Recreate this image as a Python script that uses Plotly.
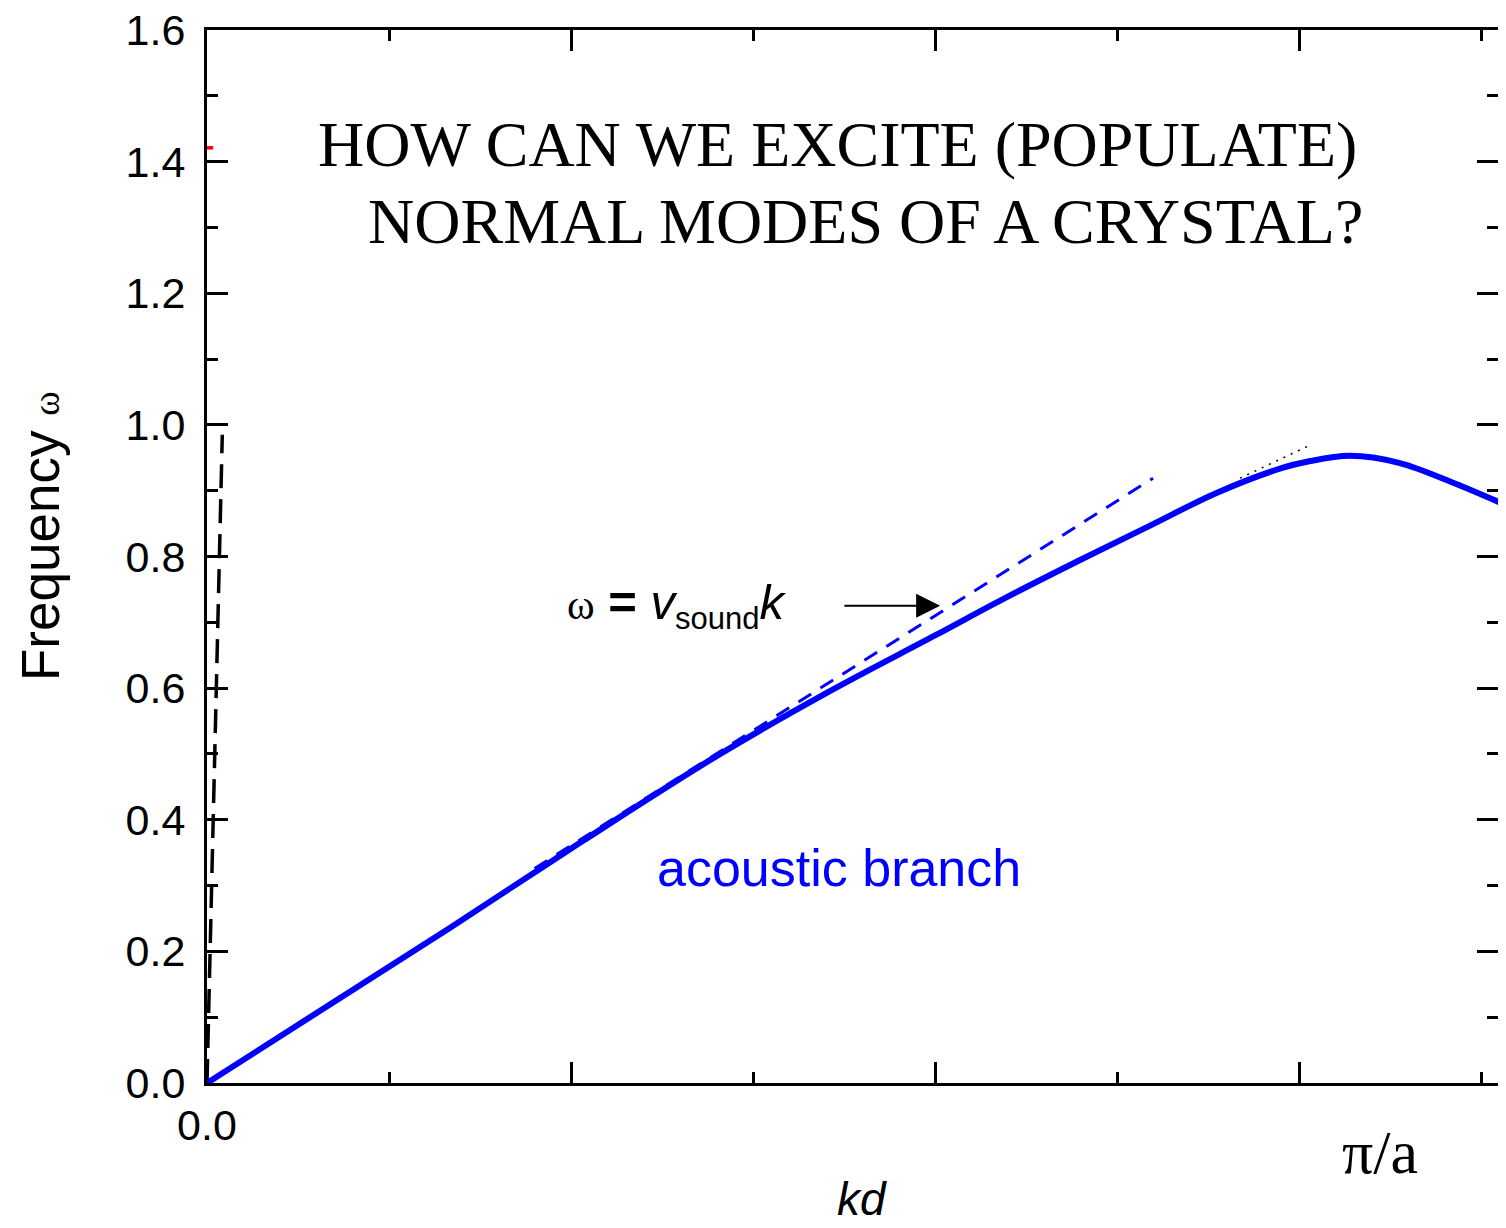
import plotly.graph_objects as go

# ---- data ----
# x in units of the major tick spacing (major ticks at 0,1,2,3), y = frequency omega
acoustic_k = [0.0, 0.668, 1.033, 1.401, 1.7, 2.0, 2.179, 2.4, 2.591, 2.775,
              2.956, 3.022, 3.140, 3.277, 3.415, 3.569]
acoustic_w = [0.0, 0.236, 0.368, 0.497, 0.592, 0.680, 0.733, 0.795, 0.847, 0.897,
              0.935, 0.944, 0.953, 0.942, 0.914, 0.878]

sound_k = [0.9, 2.599]
sound_w = [0.326, 0.919]

light_k = [0.0, 0.042]
light_w = [0.0, 0.985]

dotted_k = [2.838, 3.022]
dotted_w = [0.919, 0.967]

red_k = [0.0, 0.017]
red_w = [1.421, 1.421]

arrow_tail = (1.747, 0.725)
arrow_head = (2.014, 0.725)

x_tickvals = [0, 1, 2, 3]
x_ticktext = ["0.0", "", "", ""]
y_tickvals = [0.0, 0.2, 0.4, 0.6, 0.8, 1.0, 1.2, 1.4, 1.6]
y_ticktext = ["0.0", "0.2", "0.4", "0.6", "0.8", "1.0", "1.2", "1.4", "1.6"]

SANS = "Liberation Sans, Arial, sans-serif"
SERIF = "Liberation Serif, Times New Roman, serif"

fig = go.Figure()

fig.add_trace(go.Scatter(x=light_k, y=light_w, mode="lines",
                         line=dict(color="black", width=3.5, dash="24px,11px"),
                         showlegend=False, hoverinfo="skip"))
fig.add_trace(go.Scatter(x=sound_k, y=sound_w, mode="lines",
                         line=dict(color="#0000FF", width=3, dash="15px,11px"),
                         showlegend=False, hoverinfo="skip"))
fig.add_trace(go.Scatter(x=dotted_k, y=dotted_w, mode="lines",
                         line=dict(color="black", width=1.5, dash="2px,6px"),
                         showlegend=False, hoverinfo="skip"))
fig.add_trace(go.Scatter(x=acoustic_k, y=acoustic_w, mode="lines",
                         line=dict(color="#0000FF", width=6, shape="spline", smoothing=1.0),
                         showlegend=False, hoverinfo="skip"))
fig.add_trace(go.Scatter(x=red_k, y=red_w, mode="lines",
                         line=dict(color="red", width=3.5),
                         showlegend=False, hoverinfo="skip", cliponaxis=False))

# page body has an 8px margin: keep the figure inside the window
fig.update_layout(
    width=1490, height=1212,
    margin=dict(l=199, r=0, t=22, b=137, autoexpand=False),
    paper_bgcolor="white", plot_bgcolor="white",
    font=dict(family=SANS, color="black", size=43),
    showlegend=False,
)

axis_common = dict(
    showline=True, linewidth=3, linecolor="black", mirror="ticks",
    ticks="inside", ticklen=21, tickwidth=3, tickcolor="black",
    showgrid=False, zeroline=False, automargin=False,
    ticklabeloverflow="allow",
    tickfont=dict(family=SANS, size=43, color="black"),
)

fig.update_xaxes(
    range=[0, 3.5467], tickmode="array", tickvals=x_tickvals, ticktext=x_ticktext,
    ticklabelstandoff=2,
    minor=dict(ticks="inside", ticklen=11, tickwidth=3, tickcolor="black",
               dtick=0.5, tick0=0, showgrid=False),
    **axis_common,
)
fig.update_yaxes(
    range=[0, 1.6], tickmode="array", tickvals=y_tickvals, ticktext=y_ticktext,
    ticklabelstandoff=10,
    minor=dict(ticks="inside", ticklen=11, tickwidth=3, tickcolor="black",
               dtick=0.1, tick0=0, showgrid=False),
    **axis_common,
)

annotations = [
    dict(text="Frequency <span style=\"font-family:'Liberation Serif';font-size:37px\">ω</span>",
         x=-167 / 1291, y=(1083 - 536) / 1053, xref="paper", yref="paper",
         xanchor="center", yanchor="middle", textangle=-90, showarrow=False,
         font=dict(family=SANS, size=53, color="black")),
    dict(text="<i>kd</i>", x=(862 - 207) / 364, y=-(1199 - 1083) / 1053,
         xref="x", yref="paper", xanchor="center", yanchor="middle", showarrow=False,
         font=dict(family=SANS, size=46, color="black")),
    dict(text="HOW CAN WE EXCITE (POPULATE)", x=(316 - 207) / 364, y=1.4255,
         xref="x", yref="y", xanchor="left", yanchor="middle", showarrow=False,
         font=dict(family=SERIF, size=64, color="black")),
    dict(text="NORMAL MODES OF A CRYSTAL?", x=(366 - 207) / 364, y=1.3085,
         xref="x", yref="y", xanchor="left", yanchor="middle", showarrow=False,
         font=dict(family=SERIF, size=64, color="black")),
    dict(text="acoustic branch", x=(655 - 207) / 364, y=0.326, xref="x", yref="y",
         xanchor="left", yanchor="middle", showarrow=False,
         font=dict(family=SANS, size=52, color="#0000FF")),
    dict(text="<span style=\"font-family:'Liberation Serif';font-size:42px\">ω</span> <b>=</b> "
              "<i>v</i><sub><span style=\"font-size:31px\">sound</span></sub><i>k</i>",
         x=(565 - 207) / 364, y=0.725, xref="x", yref="y", xanchor="left", yanchor="middle",
         showarrow=False, font=dict(family=SANS, size=49, color="black")),
    dict(text="", x=arrow_head[0], y=arrow_head[1], ax=arrow_tail[0], ay=arrow_tail[1],
         xref="x", yref="y", axref="x", ayref="y", showarrow=True,
         arrowhead=2, arrowsize=2.4, arrowwidth=2, arrowcolor="black", standoff=0),
    dict(text="π/a", x=(1380 - 207) / 364, y=-0.0655, xref="x", yref="paper",
         xanchor="center", yanchor="middle", showarrow=False,
         font=dict(family=SERIF, size=62, color="black")),
]
fig.update_layout(annotations=annotations)

fig.write_html("out.html")
